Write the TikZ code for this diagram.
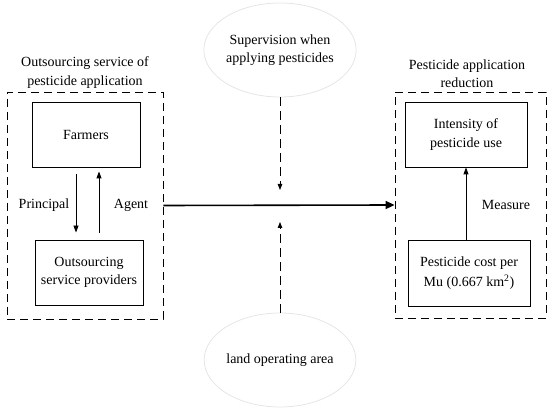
\documentclass[tikz,border=0pt]{standalone}
\usepackage{fontspec}
\setmainfont{Liberation Serif}
\usetikzlibrary{arrows.meta,positioning,shapes.geometric}
\tikzset{
  txt/.style    ={font=\fontsize{14}{18.5}\selectfont,align=center},
  box/.style    ={draw,line width=0.9pt,minimum height=65,inner sep=0pt,txt},
  frame/.style  ={draw,line width=0.8pt,dash pattern=on 8pt off 5pt,inner sep=0pt},
  oval/.style   ={ellipse,draw=black!10,line width=0.8pt,minimum width=141,minimum height=94,inner sep=0pt,txt},
  link/.style   ={-{Triangle[length=7pt,width=5pt]},line width=0.9pt},
  flow/.style   ={-{Triangle[length=9pt,width=8pt]},line width=1.6pt},
  hint/.style   ={-{Triangle[length=6pt,width=4.5pt]},line width=0.8pt,dash pattern=on 9pt off 5pt},
}

\begin{document}
\begin{tikzpicture}[x=1pt,y=-1pt]
  \useasboundingbox (0,0) rectangle (550,411);
  % left block: principal--agent relation
  \node[frame,minimum width=156,minimum height=227] (outL) at (85,205.5) {};
  \node[txt] (titleL) at (85,72.5) {Outsourcing service of\\pesticide application};
  \node[box,minimum width=108] (farm) at (86,134.5) {Farmers};
  \node[box,minimum width=108] (prov) at (89,272.5) {Outsourcing\\service providers};
  \draw[link] ([xshift=-10pt,yshift=-7pt]farm.south) -- ([xshift=-13pt,yshift=7pt]prov.north);
  \draw[link] ([xshift=10pt,yshift=7pt]prov.north) -- ([xshift=13pt,yshift=-4pt]farm.south);
  \node[txt] (lblP) at (44,205) {Principal};
  \node[txt] (lblA) at (131,205) {Agent};
  % right block: outcome and its measure
  \node[frame,minimum width=151,minimum height=226] (outR) at (470.5,205) {};
  \node[txt] (titleR) at (467,73.5) {Pesticide application\\reduction};
  \node[box,minimum width=122] (inten) at (466,134.5) {Intensity of\\pesticide use};
  \node[box,minimum width=122,minimum height=66] (cost) at (469,273) {Pesticide cost per\\[2pt]Mu (0.667 km\textsuperscript{2})};
  \draw[link] (cost.north -| inten.south) -- (inten.south);
  \node[txt] (lblM) at (506,205) {Measure};
  % main effect
  \draw[flow] (outL.east) -- (outR.west);
  % moderators
  \node[oval] (sup) at (280,50) {Supervision when\\applying pesticides};
  \node[oval] (land) at (280,360) {land operating area};
  \coordinate (mid) at (280,205);
  \draw[hint] (sup.south) -- ([yshift=15pt]mid);
  \draw[hint] (land.north) -- ([yshift=-17pt]mid);
\end{tikzpicture}
\end{document}
